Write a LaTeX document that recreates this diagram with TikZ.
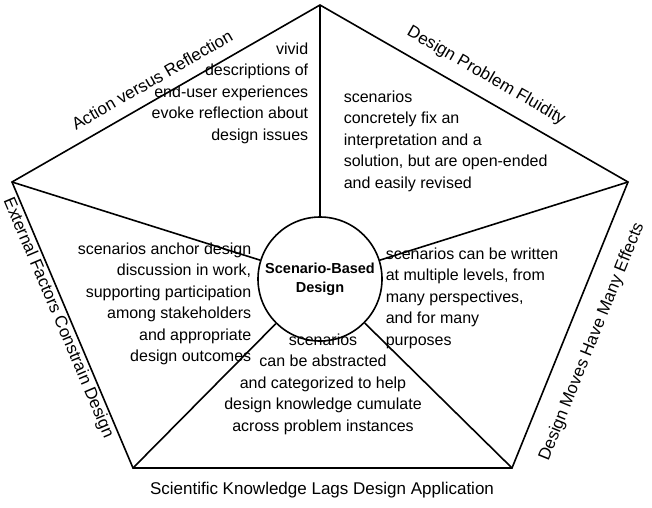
\documentclass[tikz,border=0pt]{standalone}
\usepackage{fontspec}
\setmainfont{Liberation Sans}
\begin{document}
\begin{tikzpicture}[x=1pt,y=-1pt,line width=1.6pt,
  txt/.style={font=\fontsize{16}{21.5}\selectfont,inner sep=0pt},
  edgelbl/.style={font=\fontsize{17}{20}\selectfont,inner sep=0pt}]
\useasboundingbox (0,0) rectangle (652,507);
\coordinate (T) at (320,5);
\coordinate (R) at (628,182);
\coordinate (BR) at (512,468);
\coordinate (BL) at (133,468);
\coordinate (L) at (12,182);
\draw (T)--(R)--(BR)--(BL)--(L)--cycle;
\node[circle,draw,minimum size=124pt,inner sep=0pt,
  font=\fontsize{14.5}{19}\selectfont\bfseries,align=center] (C) at (320,279) {Scenario-Based\\Design};
\draw (T) -- (C);
\draw (R) -- (C);
\draw (BR) -- (C);
\draw (BL) -- (C);
\draw (L) -- (C);
\node[txt,align=right,anchor=north east] (a) at (309,42) {vivid\\descriptions of\\end-user experiences\\evoke reflection about\\design issues};
\node[txt,align=left,anchor=north west] (b) at (343,90) {scenarios\\concretely fix an\\interpretation and a\\solution, but are open-ended\\and easily revised};
\node[txt,align=right,anchor=north east] (c) at (252,242) {scenarios anchor design\\discussion in work,\\supporting participation\\among stakeholders\\and appropriate\\design outcomes};
\node[txt,align=left,anchor=north west] (d) at (385,247) {scenarios can be written\\at multiple levels, from\\many perspectives,\\and for many\\purposes};
\node[txt,align=center,anchor=north] (e) at (323,333) {scenarios\\can be abstracted\\and categorized to help\\design knowledge cumulate\\across problem instances};
\node[edgelbl,rotate=30] (la) at (152,80) {Action versus Reflection};
\node[edgelbl,rotate=-30] (lb) at (486,76) {Design Problem Fluidity};
\node[edgelbl,rotate=68] (lc) at (592,342) {Design Moves Have Many Effects};
\node[edgelbl,rotate=-67] (ld) at (58,318) {External Factors Constrain Design};
\node[edgelbl] (le) at (322,490) {Scientific Knowledge Lags Design Application};
\end{tikzpicture}
\end{document}
